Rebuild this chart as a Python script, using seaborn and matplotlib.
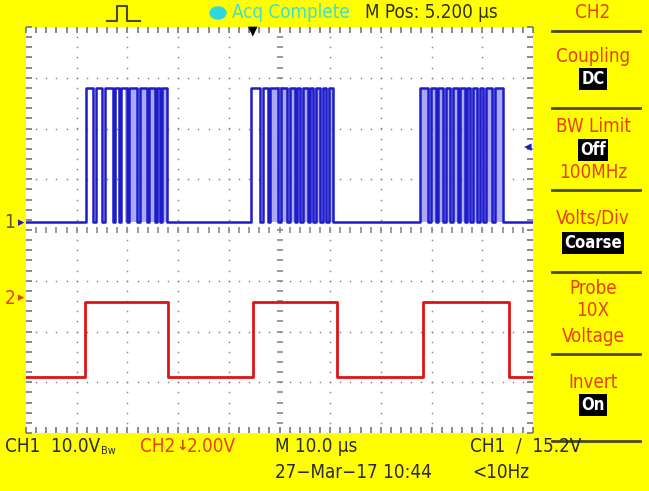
import numpy as np
import pandas as pd
import seaborn as sns
import matplotlib.pyplot as plt
from matplotlib.lines import Line2D
from matplotlib.patches import Circle

# screen is 10 x 8 divisions; times and levels below are in divisions
ch1_low, ch1_high = 4.16, 6.80
ch2_low, ch2_high = 1.10, 2.58

# CH1 pulse (start, end) pairs, three bursts
ch1_pulses = [
    (1.18, 1.32), (1.38, 1.50), (1.56, 1.72), (1.76, 1.83), (1.87, 1.99),
    (2.03, 2.19), (2.25, 2.39), (2.43, 2.54), (2.58, 2.64), (2.68, 2.78),
    (4.44, 4.62), (4.67, 4.77), (4.81, 4.97), (5.03, 5.15), (5.21, 5.31),
    (5.35, 5.40), (5.46, 5.56), (5.60, 5.66), (5.72, 5.80), (5.86, 5.92),
    (5.98, 6.06),
    (7.77, 7.93), (7.99, 8.09), (8.13, 8.22), (8.28, 8.36), (8.42, 8.52),
    (8.56, 8.66), (8.70, 8.76), (8.82, 8.90), (8.95, 9.01), (9.07, 9.19),
    (9.25, 9.41),
]
# spans where overlapping sweeps smear into a light fill
ch1_smear = [(1.95, 2.78), (4.81, 6.06), (7.80, 9.41)]

# CH2 square wave edges
ch2_rise = [1.16, 4.48, 7.83]
ch2_fall = [2.80, 6.13, 9.53]


def square(pulses, low, high):
    t, v = [0.0], [low]
    for a, b in pulses:
        t += [a, a, b, b]
        v += [low, high, high, low]
    t.append(10.0)
    v.append(low)
    return pd.DataFrame({"t": t, "v": v})


ch1 = square(ch1_pulses, ch1_low, ch1_high)
ch2 = square(list(zip(ch2_rise, ch2_fall)), ch2_low, ch2_high)

W, H = 649, 491
fig = plt.figure(figsize=(W / 100, H / 100), dpi=100, facecolor="#ffff00")


def px(x, y):
    return x / W, 1 - y / H


ax = fig.add_axes([26 / W, 58 / H, 507 / W, 406 / H])
ax.set_facecolor("white")
ax.set_xlim(0, 10)
ax.set_ylim(0, 8)

# graticule dots
dot = np.arange(0.2, 10, 0.2)
for k in range(1, 10):
    if k != 5:
        ax.scatter(np.full(39, k), dot[:39], s=1.5, color="#8a8a8a", lw=0, zorder=1)
for k in range(1, 8):
    if k != 4:
        ax.scatter(dot, np.full(len(dot), k), s=1.5, color="#8a8a8a", lw=0, zorder=1)
ax.plot(np.full(39, 5), dot[:39], ls="none", marker="_", ms=4, mew=1.2, color="#8a8a8a")
ax.plot(dot, np.full(len(dot), 4), ls="none", marker="|", ms=4, mew=1.2, color="#8a8a8a")

ax.set_xticks(np.arange(0, 10.01, 0.2))
ax.set_yticks(np.arange(0, 8.01, 0.2))
ax.tick_params(direction="in", length=4, width=1.1, color="#6a6a6a",
               top=True, right=True, labelbottom=False, labelleft=False)
for s in ax.spines.values():
    s.set_visible(False)

for a, b in ch1_smear:
    ax.fill_between([a, b], ch1_low, ch1_high, color="#8c8cf5", alpha=0.75, lw=0, zorder=2)

sns.lineplot(data=ch1, x="t", y="v", sort=False, estimator=None,
             color="#1c1cc8", lw=1.8, ax=ax, zorder=3)
sns.lineplot(data=ch2, x="t", y="v", sort=False, estimator=None,
             color="#dd1414", lw=2.0, ax=ax, zorder=3)
ax.set_xlabel("")
ax.set_ylabel("")

fam = ["DejaVu Sans"]
dark = "#2a2a30"
red = "#e8400c"
txt = dict(family=fam, fontstretch="condensed", fontsize=13.5, va="center")

# top bar
fig.add_artist(Line2D([107 / W, 117 / W, 117 / W, 127 / W, 127 / W, 140 / W],
                      [1 - 21 / H, 1 - 21 / H, 1 - 6 / H, 1 - 6 / H, 1 - 21 / H, 1 - 21 / H],
                      color="#4a4a10", lw=1.5))
fig.add_artist(Circle(px(218, 13), 8 / W, transform=fig.transFigure, color="#2fd8e0"))
fig.text(*px(232, 13), "Acq Complete", color="#40e0c8", **txt)
fig.text(*px(365, 13), "M Pos: 5.200\u00a0\u00b5s", color="#303010", **txt)
fig.text(*px(253, 31), "\u25bc", color="black", fontsize=9, ha="center", va="center")

# channel markers
fig.text(*px(10, 223), "1", color="#5a5a10", ha="center", **txt)
fig.text(*px(21, 223), "\u25b8", color="#1c1cc8", fontsize=9, va="center", ha="center")
fig.text(*px(10, 298), "2", color=red, ha="center", **txt)
fig.text(*px(21, 298), "\u25b8", color=red, fontsize=9, va="center", ha="center")
fig.text(*px(528, 147), "\u25c2", color="#1c1cc8", fontsize=11, va="center", ha="center")

# side menu
cx = 593
fig.text(*px(cx, 13), "CH2", color=red, ha="center", **txt)
for y in [31, 108, 190, 272, 354, 441]:
    fig.add_artist(Line2D([552 / W, 640 / W], [1 - y / H, 1 - y / H], color="#4a4a20", lw=2))
for label, y in [("Coupling", 57), ("BW Limit", 127), ("100MHz", 173), ("Volts/Div", 218),
                 ("Probe", 288), ("10X", 311), ("Voltage", 336), ("Invert", 382)]:
    fig.text(*px(cx, y), label, color=red, ha="center", **txt)
for label, y in [("DC", 79), ("Off", 150), ("Coarse", 243), ("On", 405)]:
    fig.text(*px(cx, y), label, color="white", family=fam, fontstretch="condensed",
             fontsize=12, ha="center", va="center", fontweight="bold",
             bbox=dict(facecolor="black", edgecolor="none", pad=1.5))

# bottom readout
fig.text(*px(5, 446), "CH1  10.0V", color=dark, **txt)
fig.text(*px(101, 451), "Bw", color=dark, family=fam, fontsize=7, va="center")
fig.text(*px(140, 446), "CH2", color=red, **txt)
fig.text(*px(176, 446), "\u2193", color=red, fontsize=10, va="center", fontweight="bold")
fig.text(*px(187, 446), "2.00V", color=red, **txt)
fig.text(*px(275, 446), "M 10.0\u00a0\u00b5s", color=dark, **txt)
fig.text(*px(470, 446), "CH1  \u2215  15.2V", color=dark, **txt)
fig.text(*px(275, 472), "27\u2212Mar\u221217 10:44", color=dark, **txt)
fig.text(*px(472, 472), "<10Hz", color=dark, **txt)

fig.savefig("out.png", dpi=100, facecolor=fig.get_facecolor())
